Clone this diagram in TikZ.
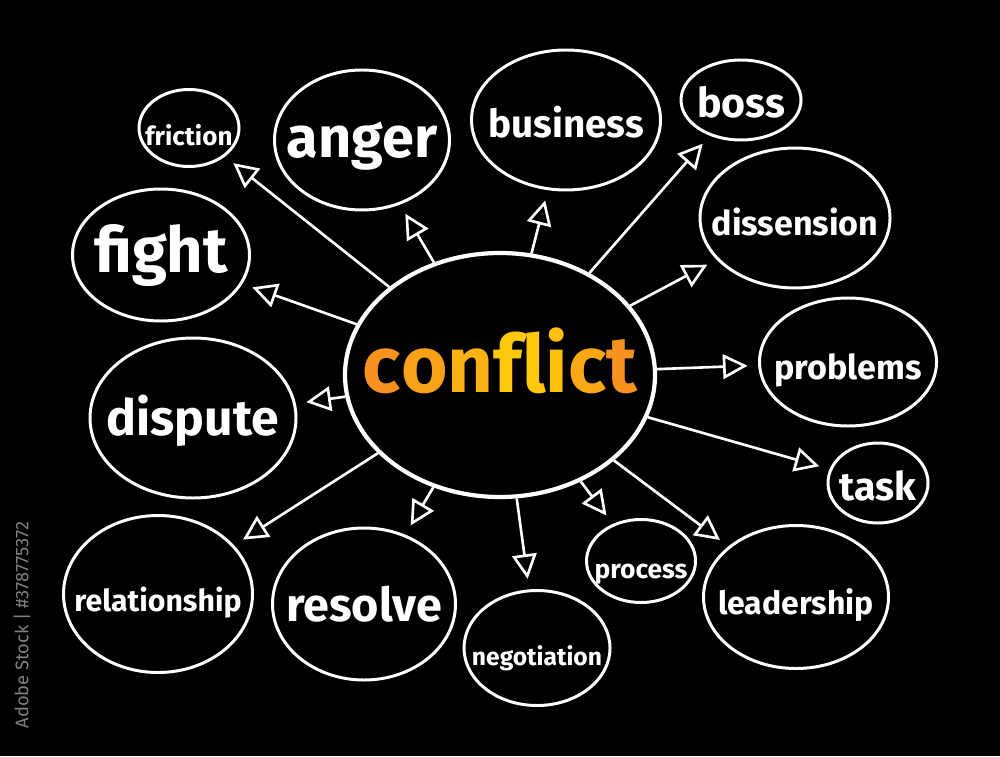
\documentclass[tikz,border=0pt]{standalone}
\usepackage{fontspec}
\usepackage{tikz}
\usepackage{color}
\usetikzlibrary{shapes.geometric,arrows.meta}
\setmainfont{Fira Sans}
\definecolor{cfOrange}{HTML}{F7921E}
\definecolor{cfYellow}{HTML}{FFC80A}
\newcommand{\hw}[1]{\bfseries\fontsize{#1}{#1}\selectfont}
\newcommand{\nw}[1]{\makebox[0pt]{#1}}

\begin{document}
\begin{tikzpicture}[
topic/.style={ellipse,draw=white,line width=0.85pt,inner sep=0pt,text=white,text height=2.2ex,text depth=0.3ex},
arr/.style={-{Triangle[open,length=7pt,width=7pt]},white,line width=0.75pt,shorten >=3pt}]
\fill[black] (0,0) rectangle (10,7.56);
\useasboundingbox (0,0) rectangle (10,7.56);
\node[rotate=90,text=gray,font=\fontsize{5.2}{5.2}\selectfont] (stockid) at (0.22,1.31) {Adobe Stock | \#378775372};
\node[topic,line width=1.2pt,minimum width=3.1cm,minimum height=2.44cm,font=\hw{22.7}] (conflict) at (5.00,3.81)
{\nw{\textcolor{cfOrange}{c}\textcolor{cfOrange!70!cfYellow}{o}\textcolor{cfOrange!40!cfYellow}{n}\textcolor{cfYellow}{f}\textcolor{cfYellow}{l}\textcolor{cfOrange!15!cfYellow}{i}\textcolor{cfOrange!60!cfYellow}{c}\textcolor{cfOrange}{t}}};
\node[topic,minimum width=1.00cm,minimum height=0.77cm,font=\hw{7.4}] (friction) at (1.89,6.28) {\nw{friction}};
\node[topic,minimum width=1.75cm,minimum height=1.40cm,font=\hw{16.4}] (anger) at (3.62,6.16) {\nw{anger}};
\node[topic,minimum width=1.89cm,minimum height=1.40cm,font=\hw{11}] (business) at (5.66,6.36) {\nw{business}};
\node[topic,minimum width=1.20cm,minimum height=0.80cm,font=\hw{11.7}] (boss) at (7.41,6.56) {\nw{boss}};
\node[topic,minimum width=1.90cm,minimum height=1.40cm,font=\hw{9.7}] (dissension) at (7.95,5.38) {\nw{dissension}};
\node[topic,minimum width=1.77cm,minimum height=1.32cm,font=\hw{18}] (fight) at (1.61,5.01) {\nw{fight}};
\node[topic,minimum width=1.77cm,minimum height=1.28cm,font=\hw{9.7}] (problems) at (8.48,3.94) {\nw{problems}};
\node[topic,minimum width=2.06cm,minimum height=1.60cm,font=\hw{14.2}] (dispute) at (1.93,3.38) {\nw{dispute}};
\node[topic,minimum width=1.00cm,minimum height=0.80cm,font=\hw{11.2}] (task) at (8.78,2.73) {\nw{task}};
\node[topic,minimum width=1.89cm,minimum height=1.57cm,font=\hw{8.6}] (relationship) at (1.58,1.62) {\nw{relationship}};
\node[topic,minimum width=1.83cm,minimum height=1.52cm,font=\hw{13.3}] (resolve) at (3.64,1.52) {\nw{resolve}};
\node[topic,minimum width=1.09cm,minimum height=0.83cm,font=\hw{7.5}] (process) at (6.41,1.95) {\nw{process}};
\node[topic,minimum width=1.85cm,minimum height=1.43cm,font=\hw{9.1}] (leadership) at (7.96,1.59) {\nw{leadership}};
\node[topic,minimum width=1.46cm,minimum height=1.15cm,font=\hw{7}] (negotiation) at (5.37,1.08) {\nw{negotiation}};
% spokes
\path[arr]
(conflict) edge (friction)
(conflict) edge (anger)
(conflict) edge (business)
(conflict) edge (boss)
(conflict) edge (dissension)
(conflict) edge (fight)
(conflict) edge (problems)
(conflict) edge (dispute)
(conflict) edge (task)
(conflict) edge (relationship)
(conflict) edge (resolve)
(conflict) edge (process)
(conflict) edge (leadership)
(conflict) edge (negotiation);
\end{tikzpicture}
\end{document}
